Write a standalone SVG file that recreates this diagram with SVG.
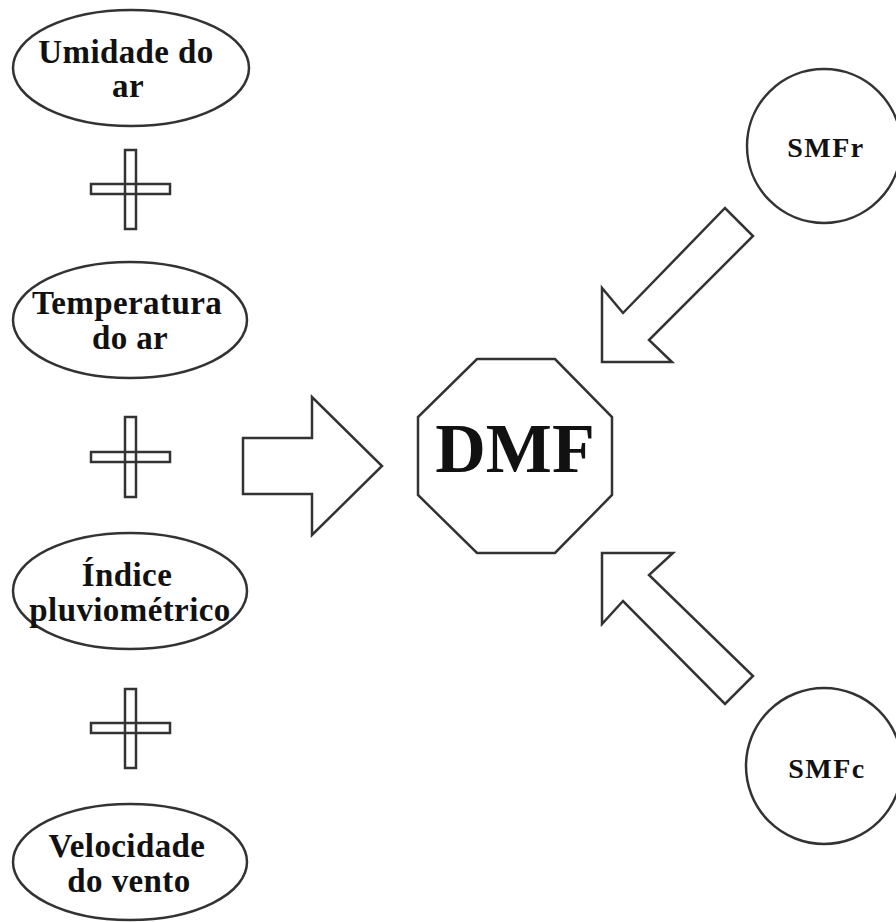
<svg xmlns="http://www.w3.org/2000/svg" width="896" height="922" viewBox="0 0 896 922">
<style>
.sh{fill:#fff;stroke:#333;stroke-width:2.5}
.pl{fill:none;stroke:#333;stroke-width:2.5}
.t{font-family:"Liberation Serif","Times New Roman",serif;font-weight:bold;fill:#111;text-anchor:middle}
.lt{font-size:33px;letter-spacing:0.4px}
.st{font-size:28px;letter-spacing:1.5px}
</style>
<rect width="896" height="922" fill="#fff"/>
<g id="umidade">
<ellipse class="sh" cx="131" cy="68" rx="118" ry="58"/>
<text class="t lt" x="126" y="63">Umidade do</text>
<text class="t lt" x="128" y="97">ar</text>
</g>
<g id="temperatura">
<ellipse class="sh" cx="130" cy="320" rx="117" ry="58"/>
<text class="t lt" x="127" y="314">Temperatura</text>
<text class="t lt" x="130" y="349">do ar</text>
</g>
<g id="indice">
<ellipse class="sh" cx="130" cy="591" rx="117" ry="58"/>
<text class="t lt" x="127" y="586">Índice</text>
<text class="t lt" x="130" y="621">pluviométrico</text>
</g>
<g id="velocidade">
<ellipse class="sh" cx="130" cy="862" rx="117" ry="58"/>
<text class="t lt" x="127" y="857">Velocidade</text>
<text class="t lt" x="129" y="892">do vento</text>
</g>
<g id="plus1">
<rect class="pl" x="125" y="150" width="11" height="79"/>
<rect class="pl" x="91" y="184" width="79" height="10"/>
</g>
<g id="plus2">
<rect class="pl" x="125" y="417" width="11" height="80"/>
<rect class="pl" x="91" y="452" width="79" height="10"/>
</g>
<g id="plus3">
<rect class="pl" x="125" y="689" width="11" height="79"/>
<rect class="pl" x="91" y="723" width="79" height="10"/>
</g>
<g id="dmf">
<polygon class="sh" points="477,359 555,359 612,417 612,495 555,553 477,553 418,495 418,417"/>
<text class="t" x="515" y="472" font-size="70">DMF</text>
</g>
<g id="smfr">
<circle class="sh" cx="824" cy="146" r="77"/>
<text class="t st" x="826" y="157">SMFr</text>
</g>
<g id="smfc">
<circle class="sh" cx="824" cy="766" r="78"/>
<text class="t st" x="827" y="778">SMFc</text>
</g>
<g id="connectors">
<polygon class="sh" points="243,438 312,438 312,397 382,466 312,535 312,494 243,494"/>
<polygon class="sh" points="602,362 602,288 623,313 725,208 753,236 649,340 672,362"/>
<polygon class="sh" points="602,553 673,553 649,575 753,676 725,704 623,601 602,624"/>
</g>
</svg>
